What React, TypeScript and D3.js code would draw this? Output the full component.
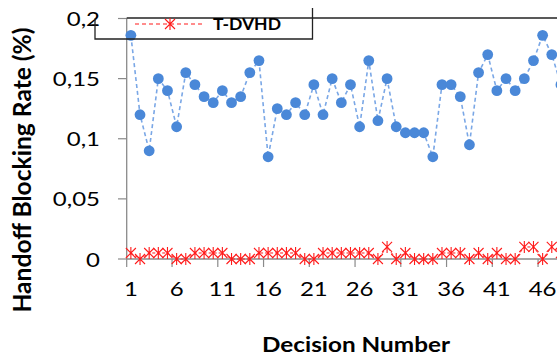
import * as d3 from "d3";

// decision numbers on the x axis
const decisions = d3.range(1, 51);
const xTickLabels = [1, 6, 11, 16, 21, 26, 31, 36, 41, 46];
const yTicks = [0, 0.05, 0.1, 0.15, 0.2];
const yTickLabels = ["0", "0,05", "0,1", "0,15", "0,2"];

// blue series (no legend entry visible in the crop)
const otherRate = [
  0.186, 0.12, 0.09, 0.15, 0.14, 0.11, 0.155, 0.145, 0.135, 0.13,
  0.14, 0.13, 0.135, 0.155, 0.165, 0.085, 0.125, 0.12, 0.13, 0.12,
  0.145, 0.12, 0.15, 0.13, 0.145, 0.11, 0.165, 0.115, 0.15, 0.11,
  0.105, 0.105, 0.105, 0.085, 0.145, 0.145, 0.135, 0.095, 0.155, 0.17,
  0.14, 0.15, 0.14, 0.15, 0.165, 0.186, 0.17, 0.145,
];

// T-DVHD
const tdvhdRate = [
  0.005, 0, 0.005, 0.005, 0.005, 0, 0, 0.005, 0.005, 0.005,
  0.005, 0, 0, 0, 0.005, 0.005, 0.005, 0.005, 0.005, 0,
  0, 0.005, 0.005, 0.005, 0.005, 0.005, 0.005, 0, 0.01, 0,
  0.005, 0, 0, 0, 0.005, 0.005, 0.005, 0, 0.005, 0,
  0.005, 0, 0, 0.01, 0.01, 0, 0.01, 0.005,
];

const W = 557;
const H = 356;
const font = "Lato, 'Open Sans', sans-serif";
const axisGrey = "#8a8a8a";
const blue = "#4a88d8";
const blueLine = "#7aa7e6";
const red = "#ff1a1a";

function Star({ x, y, s }: { x: number; y: number; s: number }) {
  return (
    <path
      d={`M${x - s},${y - s}L${x + s},${y + s}M${x - s},${y + s}L${x + s},${y - s}M${x},${y - s * 1.2}L${x},${y + s * 1.2}`}
      stroke={red}
      strokeWidth={1.1}
      fill="none"
    />
  );
}

export default function App() {
  const x = d3.scaleBand<number>().domain(decisions).range([126.3, 583.8]).padding(0);
  const cx = (d: number) => (x(d) ?? 0) + x.bandwidth() / 2;
  const y = d3.scaleLinear().domain([0, 0.2]).range([259, 18.5]);
  const x0 = 126.7;

  const line = d3
    .line<number>()
    .x((_, i) => cx(decisions[i]))
    .y((v) => y(v));

  const xTickBounds = xTickLabels.map((d) => x(d) ?? 0).filter((v) => v > x0 + 1);

  return (
    <svg
      width={W}
      height={H}
      style={{ position: "absolute", left: 0, top: 0, background: "#fff" }}
    >
      {/* axes */}
      <line x1={x0} x2={x0} y1={18} y2={259} stroke={axisGrey} strokeWidth={1.3} />
      <line x1={x0} x2={W} y1={259} y2={259} stroke={axisGrey} strokeWidth={1.3} />
      {yTicks.map((t) => (
        <line key={t} x1={118} x2={x0} y1={y(t)} y2={y(t)} stroke={axisGrey} strokeWidth={1.2} />
      ))}
      {xTickBounds.map((b) => (
        <line key={b} x1={b} x2={b} y1={259} y2={267} stroke={axisGrey} strokeWidth={1.2} />
      ))}
      <line x1={x0} x2={x0} y1={259} y2={267} stroke={axisGrey} strokeWidth={1.2} />

      {/* y tick labels */}
      {yTicks.map((t, i) => (
        <text
          key={t}
          transform={`translate(100,${y(t) + 7.5}) scale(1.2,1)`}
          textAnchor="end"
          fontFamily={font}
          fontSize={20}
          fill="#000"
        >
          {yTickLabels[i]}
        </text>
      ))}

      {/* x tick labels */}
      {xTickLabels.map((d) => (
        <text
          key={d}
          transform={`translate(${cx(d)},${296}) scale(1.2,1)`}
          textAnchor="middle"
          fontFamily={font}
          fontSize={20}
          fill="#000"
        >
          {d}
        </text>
      ))}

      {/* blue series */}
      <path
        d={line(otherRate) ?? ""}
        fill="none"
        stroke={blueLine}
        strokeWidth={1.6}
        strokeDasharray="4,3"
      />
      {otherRate.map((v, i) => (
        <circle key={i} cx={cx(decisions[i])} cy={y(v)} r={5.4} fill={blue} />
      ))}

      {/* T-DVHD series */}
      <path
        d={line(tdvhdRate) ?? ""}
        fill="none"
        stroke={red}
        strokeWidth={1}
        strokeDasharray="3,2"
      />
      {tdvhdRate.map((v, i) => (
        <Star key={i} x={cx(decisions[i])} y={y(v)} s={5} />
      ))}

      {/* legend box (partly cropped) */}
      <line x1={x0} x2={W} y1={18} y2={18} stroke="#222" strokeWidth={1.3} />
      <path d="M95,18.5V39H312.5V8" fill="none" stroke="#222" strokeWidth={1.3} />
      <line x1={135} x2={203} y1={24} y2={24} stroke={red} strokeWidth={1.2} strokeDasharray="4,3" />
      <Star x={170} y={24} s={5} />
      <text
        x={213}
        y={30}
        fontFamily={font}
        fontWeight={700}
        fontSize={17.5}
        textLength={68}
        lengthAdjust="spacingAndGlyphs"
        fill="#000"
      >
        T-DVHD
      </text>

      {/* axis titles */}
      <text
        transform="translate(31,170) rotate(-90)"
        textAnchor="middle"
        fontFamily={font}
        fontWeight={700}
        fontSize={24}
        textLength={285}
        lengthAdjust="spacingAndGlyphs"
        fill="#000"
      >
        Handoff Blocking Rate (%)
      </text>
      <text
        x={356}
        y={352}
        textAnchor="middle"
        fontFamily={font}
        fontWeight={700}
        fontSize={20}
        textLength={188}
        lengthAdjust="spacingAndGlyphs"
        fill="#000"
      >
        Decision Number
      </text>
    </svg>
  );
}
